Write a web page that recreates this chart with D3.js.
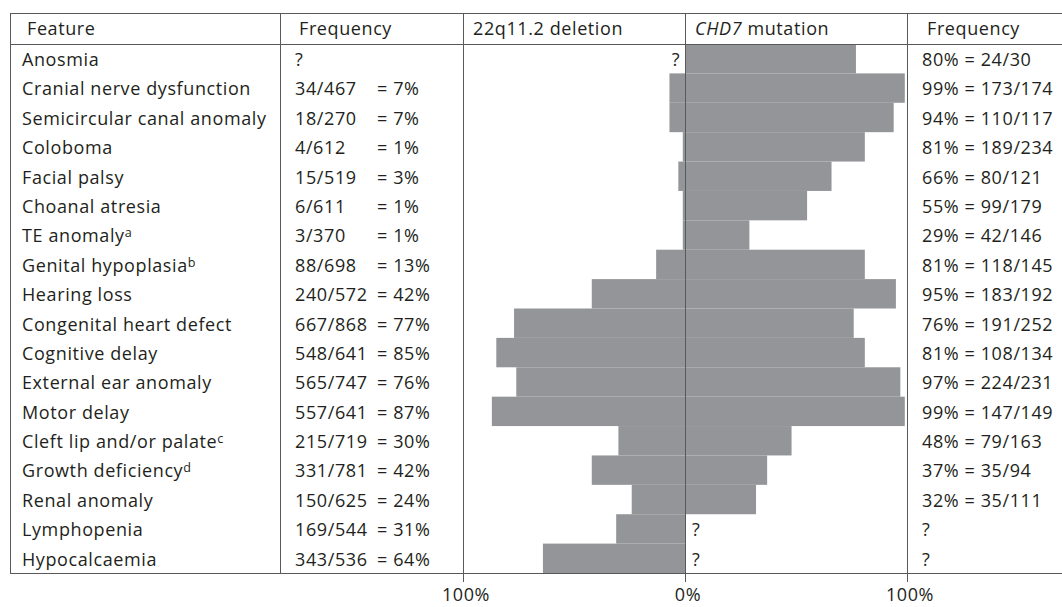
<!DOCTYPE html>
<html>
<head>
<meta charset="utf-8">
<script src="https://cdn.jsdelivr.net/npm/d3@7"></script>
<style>
  html, body { margin: 0; padding: 0; background: #fff; }
  svg { display: block; }
  text { font-family: "Open Sans", "Noto Sans", sans-serif; fill: #231f20; letter-spacing: 0.6px; }
</style>
</head>
<body>
<svg id="chart" width="1062" height="607"></svg>
<script>
// ---- data ----
const features = ["Anosmia", "Cranial nerve dysfunction", "Semicircular canal anomaly", "Coloboma",
  "Facial palsy", "Choanal atresia", "TE anomaly", "Genital hypoplasia", "Hearing loss",
  "Congenital heart defect", "Cognitive delay", "External ear anomaly", "Motor delay",
  "Cleft lip and/or palate", "Growth deficiency", "Renal anomaly", "Lymphopenia", "Hypocalcaemia"];
const footnotes = ["", "", "", "", "", "", "a", "b", "", "", "", "", "", "c", "d", "", "", ""];
// 22q11.2 deletion: counts and percentages (null = unknown)
const delFraction = [null, "34/467", "18/270", "4/612", "15/519", "6/611", "3/370", "88/698", "240/572",
  "667/868", "548/641", "565/747", "557/641", "215/719", "331/781", "150/625", "169/544", "343/536"];
const delPct = [null, 7, 7, 1, 3, 1, 1, 13, 42, 77, 85, 76, 87, 30, 42, 24, 31, 64];
// CHD7 mutation: labels and bar lengths as drawn
const chdLabel = ["80% = 24/30", "99% = 173/174", "94% = 110/117", "81% = 189/234", "66% = 80/121",
  "55% = 99/179", "29% = 42/146", "81% = 118/145", "95% = 183/192", "76% = 191/252", "81% = 108/134",
  "97% = 224/231", "99% = 147/149", "48% = 79/163", "37% = 35/94", "32% = 35/111", null, null];
const chdPct = [77, 99, 94, 81, 66, 55, 29, 81, 95, 76, 81, 97, 99, 48, 37, 32, null, null];
const headers = ["Feature", "Frequency", "22q11.2 deletion", "CHD7 mutation", "Frequency"];
const tickValues = [-100, 0, 100];

// ---- layout ----
const svg = d3.select("#chart");
const W = 1062;
const tableLeft = 10, tableTop = 13, headBottom = 44, tableBottom = 573;
const col1 = 280;
const barColor = "#939598", lineColor = "#58595b";
const fs = 18;

const x = d3.scaleLinear().domain([-100, 100]).range([463, 907]);
const y = d3.scaleBand().domain(features).range([headBottom, tableBottom]);
const rows = features.map((f, i) => ({ f, i }));

// bars
svg.append("g").selectAll("rect.del").data(rows.filter(d => delPct[d.i] != null)).join("rect")
  .attr("x", d => x(-delPct[d.i])).attr("y", d => y(d.f))
  .attr("width", d => x(0) - x(-delPct[d.i])).attr("height", y.bandwidth())
  .attr("fill", barColor);
svg.append("g").selectAll("rect.chd").data(rows.filter(d => chdPct[d.i] != null)).join("rect")
  .attr("x", x(0)).attr("y", d => y(d.f))
  .attr("width", d => x(chdPct[d.i]) - x(0)).attr("height", y.bandwidth())
  .attr("fill", barColor);

// grid lines
const g = svg.append("g").attr("stroke", lineColor).attr("stroke-width", 1).attr("shape-rendering", "crispEdges");
[tableTop, headBottom, tableBottom].forEach(yy =>
  g.append("line").attr("x1", tableLeft).attr("x2", W).attr("y1", yy + 0.5).attr("y2", yy + 0.5));
g.append("line").attr("x1", tableLeft + 0.5).attr("x2", tableLeft + 0.5).attr("y1", tableTop).attr("y2", tableBottom);
g.append("line").attr("x1", col1 + 0.5).attr("x2", col1 + 0.5).attr("y1", tableTop).attr("y2", tableBottom);
tickValues.forEach(v =>
  g.append("line").attr("x1", Math.round(x(v)) + 0.5).attr("x2", Math.round(x(v)) + 0.5)
    .attr("y1", tableTop).attr("y2", tableBottom + 9));

// axis labels
svg.append("g").selectAll("text").data(tickValues).join("text")
  .attr("x", v => x(v) + 3).attr("y", 601).attr("text-anchor", "middle")
  .attr("font-size", fs).text(v => Math.abs(v) + "%");

// headers
const headX = [27, 299, 473, 695, 927];
headers.forEach((h, i) => {
  const t = svg.append("text").attr("x", headX[i]).attr("y", 35).attr("font-size", fs);
  if (h === "CHD7 mutation") {
    t.append("tspan").attr("font-style", "italic").text("CHD7");
    t.append("tspan").text(" mutation");
  } else t.text(h);
});

const base = d => y(d.f) + 22;

// feature names with footnotes
const ft = svg.append("g").selectAll("text").data(rows).join("text")
  .attr("x", 22).attr("y", base).attr("font-size", fs);
ft.append("tspan").text(d => d.f);
ft.filter(d => footnotes[d.i]).append("tspan")
  .attr("font-size", fs * 0.7).attr("dy", -5).text(d => footnotes[d.i]);

// 22q frequency column
svg.append("g").selectAll("text").data(rows).join("text")
  .attr("x", 295).attr("y", base).attr("font-size", fs)
  .text(d => delFraction[d.i] == null ? "?" : delFraction[d.i]);
svg.append("g").selectAll("text").data(rows.filter(d => delPct[d.i] != null)).join("text")
  .attr("x", 377).attr("y", base).attr("font-size", fs)
  .text(d => "= " + delPct[d.i] + "%");

// unknown markers in bar area
svg.append("g").selectAll("text").data(rows.filter(d => delPct[d.i] == null)).join("text")
  .attr("x", x(0) - 5).attr("y", base).attr("text-anchor", "end").attr("font-size", fs).text("?");
svg.append("g").selectAll("text").data(rows.filter(d => chdPct[d.i] == null)).join("text")
  .attr("x", x(0) + 7).attr("y", base).attr("font-size", fs).text("?");

// CHD7 frequency column
svg.append("g").selectAll("text").data(rows).join("text")
  .attr("x", 922).attr("y", base).attr("font-size", fs)
  .text(d => chdLabel[d.i] == null ? "?" : chdLabel[d.i]);
</script>
</body>
</html>
